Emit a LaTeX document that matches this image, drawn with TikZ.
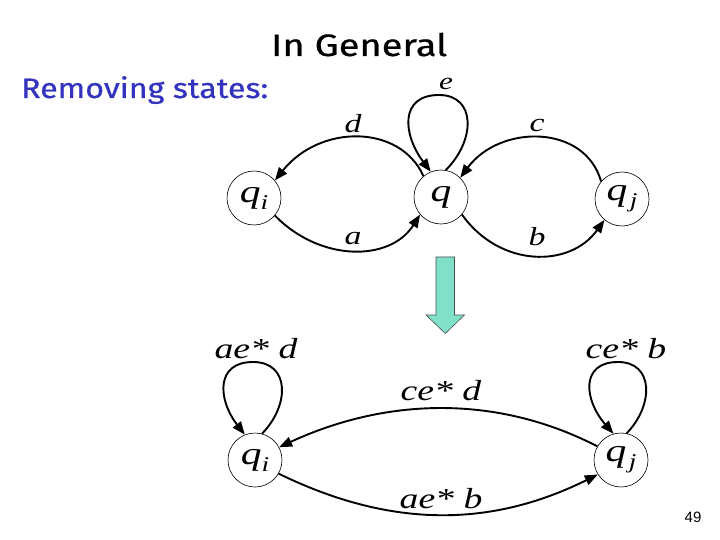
\documentclass[tikz,border=0pt]{standalone}
\usepackage{fontspec}
\setmainfont{Liberation Serif}
\newfontfamily\titlefont[FakeBold=0.6]{Fira Sans}
\newfontfamily\numfont{Liberation Sans}
\usetikzlibrary{arrows.meta}
\definecolor{arrowgreen}{RGB}{128,224,200}
\definecolor{subblue}{RGB}{51,51,190}
\newcommand\mlab[2]{{\fontsize{#1}{#1}\selectfont\itshape\scalebox{1.3}[1]{#2}}}
\newcommand\stlab[2]{\scalebox{1.3}[1]{\fontsize{32bp}{32bp}\selectfont\itshape q#1\raisebox{-7bp}{\fontsize{21bp}{21bp}\selectfont #2}}}
\begin{document}
\begin{tikzpicture}[x=1bp,y=-1bp,
  state/.style={draw, circle, line width=0.6bp, minimum size=54bp, inner sep=0pt},
  edge/.style={line width=1.9bp, -{Triangle[length=13bp,width=10bp]}},
  lbl/.style={anchor=base, inner sep=0pt}]
\path[use as bounding box, fill=white] (0,0) rectangle (720,540);

% title and subtitle
\node[anchor=base west, inner sep=0pt] (title) at (271,56)
  {\resizebox{176bp}{\height}{\titlefont\fontsize{31bp}{31bp}\selectfont In General}};
\node[anchor=base west, inner sep=0pt, text=subblue] (sub) at (21,98)
  {\resizebox{247bp}{\height}{\titlefont\fontsize{28bp}{28bp}\selectfont Removing states:}};

% top automaton
\node[state] (qi) at (254,198) {\stlab{}{i}};
\node[state] (q)  at (441,197) {\stlab{}{}};
\node[state] (qj) at (622,199) {\stlab{\hspace{2bp}}{j}};

\node[lbl] (ld) at (353,133) {\mlab{26bp}{d}};
\node[lbl] (lc) at (537,132) {\mlab{26bp}{c}};
\node[lbl] (le) at (446,90)  {\mlab{24bp}{e}};
\node[lbl] (la) at (353,245) {\mlab{26bp}{a}};
\node[lbl] (lb) at (537,246) {\mlab{26bp}{b}};

\draw[edge] (q.130) .. controls (400,124) and (320,124) .. (qi.40);
\draw[edge] (qi.-40) .. controls (320,262) and (390,262) .. (q.-140);
\draw[edge] (qj.140) .. controls (585,124) and (500,124) .. (q.45);
\draw[edge] (q.-40) .. controls (500,268) and (570,268) .. (qj.-130);
\draw[edge, shift={(q.center)}] (q.80) .. controls (35,-57) and (35,-102) .. (-2,-102)
  .. controls (-42,-102) and (-38,-62) .. (q.112);

% big arrow
\draw[fill=arrowgreen, draw=black!70, line width=0.6bp]
  (436,257) -- (454.5,257) -- (454.5,315) -- (464.5,315) -- (445.3,333.5)
  -- (426,315) -- (436,315) -- cycle;

% bottom automaton
\node[state] (pi) at (255,460) {\stlab{}{i}};
\node[state] (pj) at (621,460) {\stlab{\hspace{2bp}}{j}};

\node[lbl] (laed) at (256,358) {\mlab{29bp}{ae* d}};
\node[lbl] (lceb) at (626,358) {\mlab{29bp}{ce* b}};
\node[lbl] (lced) at (441,400) {\mlab{29bp}{ce* d}};
\node[lbl] (laeb) at (441,508) {\mlab{29bp}{ae* b}};

\draw[edge, shift={(pi.center)}] (pi.75) .. controls (35,-55) and (35,-98) .. (-2,-98)
  .. controls (-40,-98) and (-37,-60) .. (pi.112);
\draw[edge, shift={(pj.center)}] (pj.78) .. controls (33,-55) and (33,-98) .. (-3,-98)
  .. controls (-41,-98) and (-37,-60) .. (pj.106);
\draw[edge] (pj.150) .. controls (500,396) and (390,396) .. (pi.28);
\draw[edge] (pi.-30) .. controls (390,528) and (490,528) .. (pj.-148);

% page number
\node[inner sep=0pt] (pg) at (693,517) {\numfont\fontsize{15bp}{15bp}\selectfont 49};
\end{tikzpicture}
\end{document}
